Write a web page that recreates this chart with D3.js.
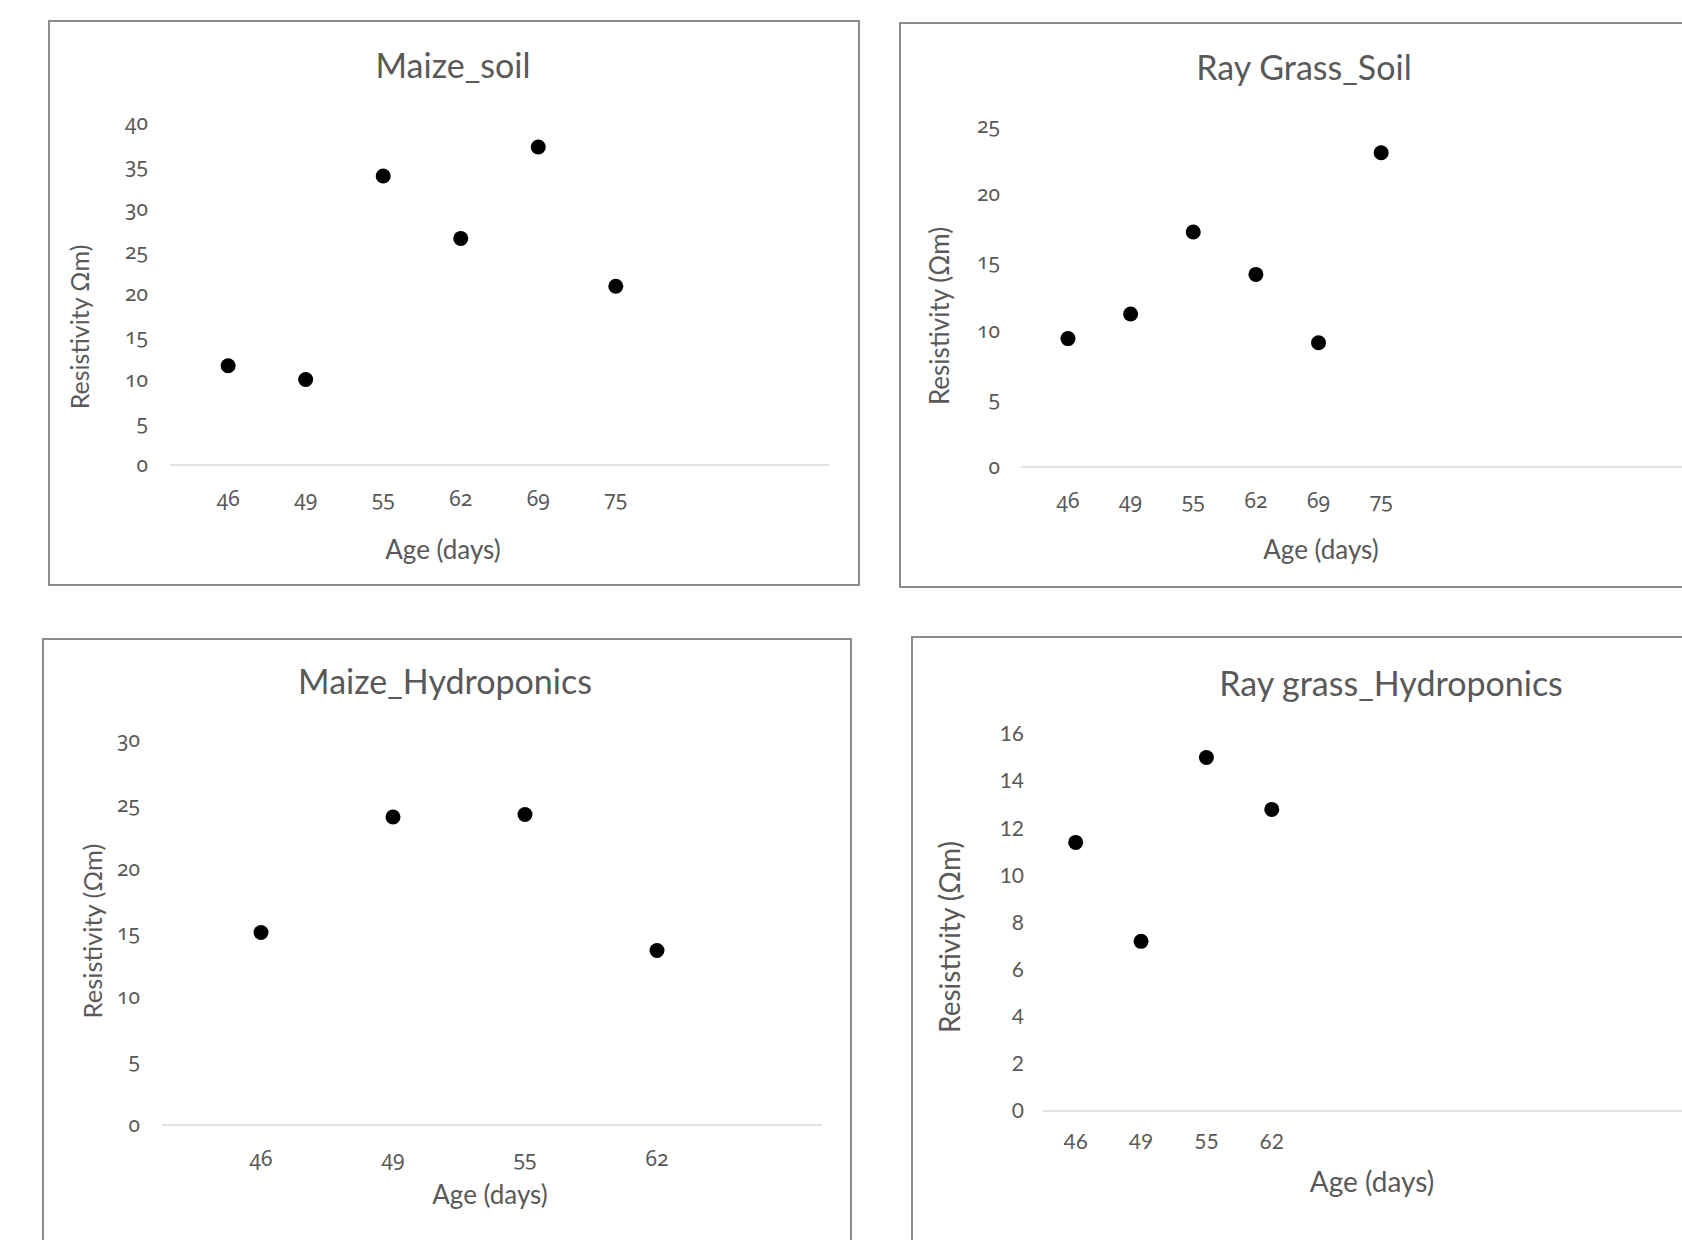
<!DOCTYPE html>
<html>
<head>
<meta charset="utf-8">
<script src="https://cdn.jsdelivr.net/npm/d3@7"></script>
<style>
  body { margin: 0; background: #fff; }
  svg { display: block; }
  .tick-old { font-family: "Noto Sans", sans-serif; font-variant-numeric: oldstyle-nums; }
</style>
</head>
<body>
<div id="chart"></div>
<script>
// Data
const agesSoil = ["46", "49", "55", "62", "69", "75"];
const agesHydro = ["46", "49", "55", "62"];

const maizeSoil = [11.6, 10.0, 33.8, 26.5, 37.2, 20.9];
const rayGrassSoil = [9.4, 11.2, 17.2, 14.1, 9.1, 23.0];
const maizeHydro = [15.0, 24.0, 24.2, 13.6];
const rayGrassHydro = [11.4, 7.2, 15.0, 12.8];

const ticksMaizeSoil = [0, 5, 10, 15, 20, 25, 30, 35, 40];
const ticksRayGrassSoil = [0, 5, 10, 15, 20, 25];
const ticksMaizeHydro = [0, 5, 10, 15, 20, 25, 30];
const ticksRayGrassHydro = [0, 2, 4, 6, 8, 10, 12, 14, 16];

const titles = ["Maize_soil", "Ray Grass_Soil", "Maize_Hydroponics", "Ray grass_Hydroponics"];
const yTitles = ["Resistivity \u03A9m)", "Resistivity (\u03A9m)", "Resistivity (\u03A9m)", "Resistivity (\u03A9m)"];
const xTitle = "Age (days)";

const width = 1682, height = 1240;
const textColor = "#595959";

// layout of the four chart boxes (page pixels)
const panels = [
  {
    cats: agesSoil, values: maizeSoil, ticks: ticksMaizeSoil, title: titles[0], yTitle: yTitles[0],
    box: [49, 21, 810, 564], xDomain: [0.25, 8.75], xRange: [170, 829], yRange: [465, 123],
    titleXY: [453, 78], yTitleXY: [80, 327], xTitleXY: [443, 559], tickX: 148, catY: 506,
    oldNums: true, yTitleSize: 25, xTitleSize: 26
  },
  {
    cats: agesSoil, values: rayGrassSoil, ticks: ticksRayGrassSoil, title: titles[1], yTitle: yTitles[1],
    box: [900, 23, 820, 564], xDomain: [0.25, 11.25], xRange: [1021, 1710], yRange: [467, 125.5],
    titleXY: [1304, 80], yTitleXY: [940, 316], xTitleXY: [1321, 559], tickX: 1000, catY: 508,
    oldNums: true, yTitleSize: 26, xTitleSize: 26
  },
  {
    cats: agesHydro, values: maizeHydro, ticks: ticksMaizeHydro, title: titles[2], yTitle: yTitles[2],
    box: [43, 639, 808, 640], xDomain: [0.25, 5.25], xRange: [162, 822], yRange: [1125, 740],
    titleXY: [445, 694], yTitleXY: [93, 931], xTitleXY: [490, 1204], tickX: 140, catY: 1166,
    oldNums: true, yTitleSize: 25.5, xTitleSize: 26
  },
  {
    cats: agesHydro, values: rayGrassHydro, ticks: ticksRayGrassHydro, title: titles[3], yTitle: yTitles[3],
    box: [912, 637, 820, 640], xDomain: [0.5, 11.5], xRange: [1043, 1762], yRange: [1111, 734],
    titleXY: [1391, 696], yTitleXY: [950, 937], xTitleXY: [1372, 1192], tickX: 1024, catY: 1149,
    oldNums: false, yTitleSize: 28, xTitleSize: 28
  }
];

const svg = d3.select("#chart")
  .append("svg")
  .attr("width", width)
  .attr("height", height);

panels.forEach((p) => {
  const g = svg.append("g");

  // chart frame
  g.append("rect")
    .attr("x", p.box[0])
    .attr("y", p.box[1])
    .attr("width", p.box[2])
    .attr("height", p.box[3])
    .attr("fill", "#fff")
    .attr("stroke", "#8c8c8c")
    .attr("stroke-width", 2);

  const x = d3.scaleLinear().domain(p.xDomain).range(p.xRange);
  const y = d3.scaleLinear().domain([0, d3.max(p.ticks)]).range(p.yRange);

  // baseline at zero
  g.append("line")
    .attr("x1", p.xRange[0])
    .attr("x2", p.xRange[1])
    .attr("y1", y(0))
    .attr("y2", y(0))
    .attr("stroke", "#d9d9d9")
    .attr("stroke-width", 1.5);

  // y tick labels
  g.selectAll(".ytick")
    .data(p.ticks)
    .enter()
    .append("text")
    .attr("class", p.oldNums ? "tick-old" : "")
    .attr("x", p.tickX)
    .attr("y", (d) => y(d))
    .attr("dy", "0.35em")
    .attr("text-anchor", "end")
    .attr("fill", textColor)
    .style("font-family", p.oldNums ? null : "Lato, sans-serif")
    .style("font-size", "21px")
    .text((d) => d);

  // category labels
  g.selectAll(".xtick")
    .data(p.cats)
    .enter()
    .append("text")
    .attr("class", p.oldNums ? "tick-old" : "")
    .attr("x", (d, i) => x(i + 1))
    .attr("y", p.catY)
    .attr("text-anchor", "middle")
    .attr("fill", textColor)
    .style("font-family", p.oldNums ? null : "Lato, sans-serif")
    .style("font-size", "21px")
    .text((d) => d);

  // points
  g.selectAll(".dot")
    .data(p.values)
    .enter()
    .append("circle")
    .attr("cx", (d, i) => x(i + 1))
    .attr("cy", (d) => y(d))
    .attr("r", 7.5)
    .attr("fill", "#000");

  // titles
  g.append("text")
    .attr("x", p.titleXY[0])
    .attr("y", p.titleXY[1])
    .attr("text-anchor", "middle")
    .attr("fill", textColor)
    .style("font-family", "Lato, sans-serif")
    .style("font-size", "34px")
    .text(p.title);

  g.append("text")
    .attr("x", p.xTitleXY[0])
    .attr("y", p.xTitleXY[1])
    .attr("text-anchor", "middle")
    .attr("fill", textColor)
    .style("font-family", "Lato, sans-serif")
    .style("font-size", p.xTitleSize + "px")
    .text(xTitle);

  g.append("text")
    .attr("transform", `translate(${p.yTitleXY[0]},${p.yTitleXY[1]}) rotate(-90)`)
    .attr("text-anchor", "middle")
    .attr("dy", "0.35em")
    .attr("fill", textColor)
    .style("font-family", "Lato, sans-serif")
    .style("font-size", p.yTitleSize + "px")
    .text(p.yTitle);
});
</script>
</body>
</html>
